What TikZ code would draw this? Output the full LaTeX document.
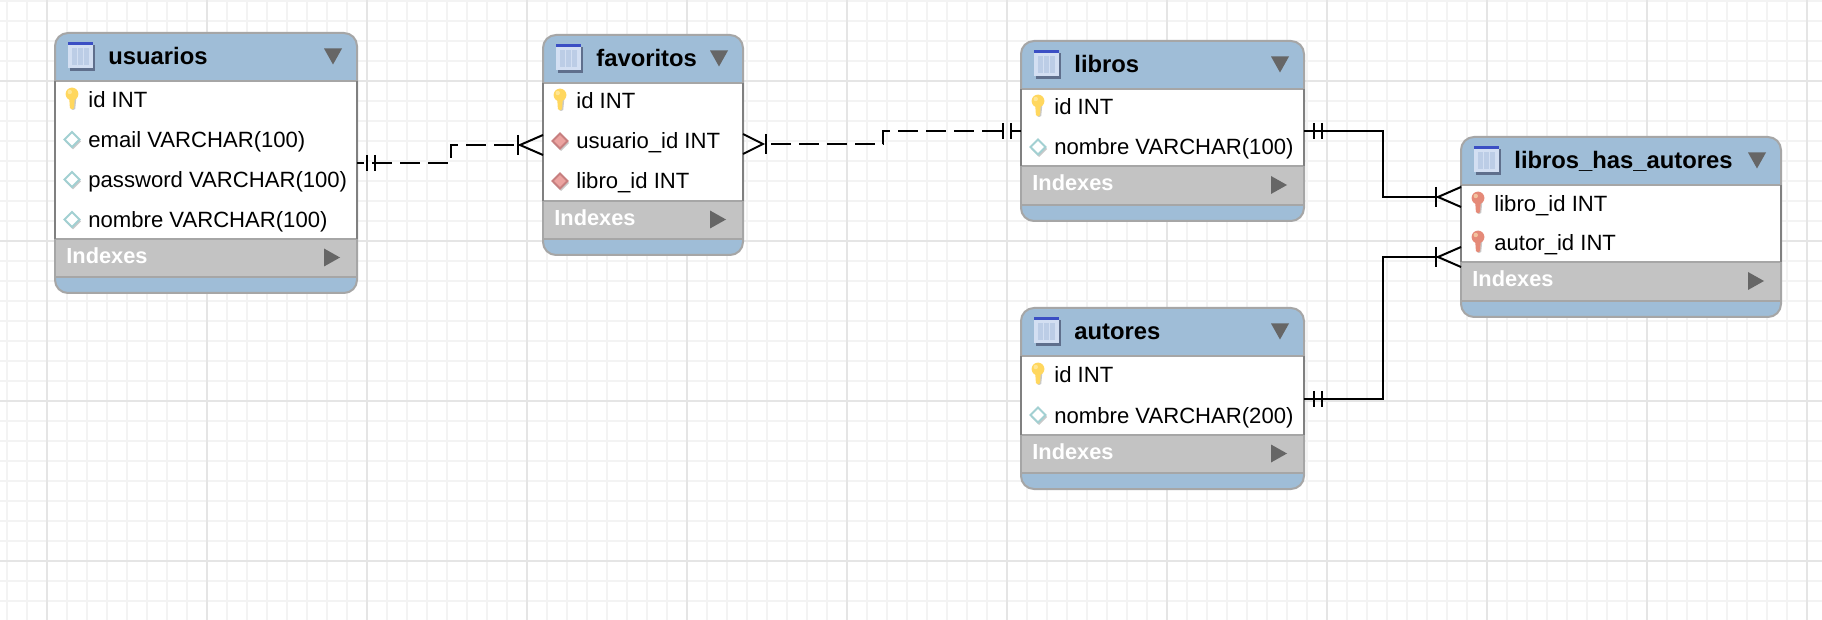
\documentclass[tikz,border=0pt]{standalone}
\usepackage{fontspec}
\setmainfont{Liberation Sans}
\usetikzlibrary{calc}
\definecolor{hdr}{HTML}{9FBDD7}
\definecolor{edgegray}{HTML}{A6A6A6}
\definecolor{sidegray}{HTML}{808080}
\definecolor{idx}{HTML}{C3C3C3}
\definecolor{tri}{HTML}{666666}
\definecolor{gmin}{HTML}{F3F3F3}
\definecolor{gmaj}{HTML}{E5E5E5}
\definecolor{icbody}{HTML}{D3DFF2}
\definecolor{iccol}{HTML}{BCCDE6}
\definecolor{icbar}{HTML}{3B4FC4}
\definecolor{icshadow}{HTML}{5F6F8C}
\definecolor{pkfill}{HTML}{FFD75E}
\definecolor{fkfill}{HTML}{E58A78}
\definecolor{keyhi}{HTML}{FFF3C0}
\definecolor{keyshade}{HTML}{C9C9C9}
\definecolor{colline}{HTML}{A2D0D2}
\definecolor{fkline}{HTML}{C77F7F}
\definecolor{fkcol}{HTML}{EBA3A0}
\tikzset{
  gridminor/.style={draw=gmin,line width=0.85pt},
  gridmajor/.style={draw=gmaj,line width=0.85pt},
  tablebox/.style={draw=edgegray,fill=hdr,line width=1pt,rounded corners=6.5pt,inner sep=0pt,outer sep=0pt},
  titletext/.style={anchor=base west,inner sep=0pt,font=\fontsize{11.9}{14}\selectfont\bfseries,text=black},
  rowtext/.style={anchor=base west,inner sep=0pt,font=\fontsize{11.05}{13}\selectfont,text=black},
  idxtext/.style={anchor=base west,inner sep=0pt,font=\fontsize{10.9}{13}\selectfont\bfseries,text=white},
  rel/.style={draw=black,line width=1pt},
  reldash/.style={rel,dash pattern=on 10pt off 4pt},
}
% table: id, title, left, right, top, bottom, index top
\newcommand{\dbtable}[7]{%
  \node[tablebox,minimum width={(#4-#3)*0.5pt},minimum height={(#6-#5)*0.5pt}] (#1) at ({(#3+#4)/2},{(#5+#6)/2}) {};
  \fill[white] (#3,#5+48) rectangle (#4,#7);
  \fill[idx] (#3,#7) rectangle (#4,#6-16);
  \draw[edgegray,line width=1pt] (#3,#5+48) -- (#4,#5+48);
  \draw[edgegray,line width=1pt] (#3,#7) -- (#4,#7);
  \draw[edgegray,line width=1pt] (#3,#6-16) -- (#4,#6-16);
  \draw[sidegray,line width=1pt] (#3,#5+48) -- (#3,#7);
  \draw[sidegray,line width=1pt] (#4,#5+48) -- (#4,#7);
  \draw[edgegray,line width=1pt] (#3,#7) -- (#3,#6-16) (#4,#7) -- (#4,#6-16);
  % table icon
  \fill[icshadow] (#3+15,#5+12) rectangle (#3+40,#5+38);
  \fill[icbody] (#3+13,#5+9) rectangle (#3+38,#5+35);
  \fill[iccol] (#3+17,#5+15) rectangle (#3+34,#5+32);
  \draw[icbody,line width=0.5pt] (#3+22.7,#5+15) -- (#3+22.7,#5+32) (#3+28.3,#5+15) -- (#3+28.3,#5+32);
  \fill[icbar] (#3+13,#5+9) rectangle (#3+38,#5+12);
  % triangles
  \fill[tri] (#4-33,#5+15.5) -- (#4-15,#5+15.5) -- (#4-24,#5+31.5) -- cycle;
  \fill[tri] (#4-33,#7+9.5) -- (#4-17,#7+18.5) -- (#4-33,#7+27.5) -- cycle;
  \node[titletext] (#1-title) at (#3+53,#5+31.5) {#2};
  \node[idxtext] (#1-idx) at (#3+11,#7+24.5) {Indexes};
}
\newcommand{\keyshape}[3]{%
  \begin{scope}[shift={(#1,#2)}]
    \fill[keyshade] (-1.5,-4) -- (4.5,-4) -- (3.2,9) -- (1,10) -- (-0.6,9) -- cycle;
    \fill[#3] (-3,-5) -- (3,-5) -- (2.1,8) -- (0,9.5) -- (-2.1,8) -- cycle;
    \fill[#3] (0,-6) circle[radius=3.2pt];
    \fill[keyhi,opacity=.55] (-2.2,-8) circle[radius=1.1pt];
  \end{scope}}
\newcommand{\diamondshape}[4]{%
  \begin{scope}[shift={(#1,#2)}]
    \fill[keyshade] (-7,2) -- (1,-6) -- (9,2) -- (1,10) -- cycle;
    \draw[#3,fill=#4,line width=1pt] (-7.5,0) -- (0,-7.5) -- (7.5,0) -- (0,7.5) -- cycle;
  \end{scope}}
\newcommand{\pkicon}[2]{\keyshape{#1+17}{#2}{pkfill}}
\newcommand{\fkicon}[2]{\keyshape{#1+17}{#2}{fkfill}}
\newcommand{\colicon}[2]{\diamondshape{#1+17}{#2}{colline}{white}}
\newcommand{\fkcolicon}[2]{\diamondshape{#1+17}{#2}{fkline}{fkcol}}
% row: node name, icon macro, left, centre y, text
\newcommand{\dbrow}[5]{#2{#3}{#4}\node[rowtext] (#1) at (#3+33,#4+8) {#5};}
% ends: point, direction (+1 right, -1 left)
\newcommand{\twobars}[2]{%
  \draw[rel] ($(#1)+(#2*10,-8)$) -- ($(#1)+(#2*10,8)$);
  \draw[rel] ($(#1)+(#2*18,-8)$) -- ($(#1)+(#2*18,8)$);}
\newcommand{\crowend}[4]{% point, dir, apex offset, bar offset
  \draw[rel] ($(#1)+(0,-10)$) -- ($(#1)+(#2*#3,0)$) -- ($(#1)+(0,10)$);
  \draw[rel] ($(#1)+(#2*#4,-10)$) -- ($(#1)+(#2*#4,10)$);}
\begin{document}
\begin{tikzpicture}[x=0.5pt,y=-0.5pt]
\useasboundingbox (0,0) rectangle (1822,620);
\fill[white] (0,0) rectangle (1822,620);
% grid
\foreach \x in {7,27,...,1822} \draw[gridminor] (\x,0) -- (\x,620);
\foreach \y in {1,21,...,620} \draw[gridminor] (0,\y) -- (1822,\y);
\foreach \x in {47,207,...,1822} \draw[gridmajor] (\x,0) -- (\x,620);
\foreach \y in {81,241,401,561} \draw[gridmajor] (0,\y) -- (1822,\y);
% tables
\dbtable{usu}{usuarios}{55}{357}{33}{293}{239}
\dbrow{usu-id}{\pkicon}{55}{100}{id INT}
\dbrow{usu-email}{\colicon}{55}{139.5}{email VARCHAR(100)}
\dbrow{usu-pass}{\colicon}{55}{179.5}{password VARCHAR(100)}
\dbrow{usu-nom}{\colicon}{55}{219.5}{nombre VARCHAR(100)}
\dbtable{fav}{favoritos}{543}{743}{35}{255}{201}
\dbrow{fav-id}{\pkicon}{543}{101}{id INT}
\dbrow{fav-usu}{\fkcolicon}{543}{141}{usuario\_id INT}
\dbrow{fav-lib}{\fkcolicon}{543}{181}{libro\_id INT}
\dbtable{lib}{libros}{1021}{1304}{41}{221}{166.5}
\dbrow{lib-id}{\pkicon}{1021}{107}{id INT}
\dbrow{lib-nom}{\colicon}{1021}{147}{nombre VARCHAR(100)}
\dbtable{aut}{autores}{1021}{1304}{308}{489}{435}
\dbrow{aut-id}{\pkicon}{1021}{375}{id INT}
\dbrow{aut-nom}{\colicon}{1021}{415}{nombre VARCHAR(200)}
\dbtable{lha}{libros\_has\_autores}{1461}{1781}{137}{317}{262.5}
\dbrow{lha-lib}{\fkicon}{1461}{204}{libro\_id INT}
\dbrow{lha-aut}{\fkicon}{1461}{243}{autor\_id INT}
% connector ends
\coordinate (usuE) at (usu.east |- 0,163);
\coordinate (favW) at (fav.west |- 0,145);
\coordinate (favE) at (fav.east |- 0,144);
\coordinate (libW) at (lib.west |- 0,131);
\coordinate (libE) at (lib.east |- 0,131);
\coordinate (lhaA) at (lha.west |- 0,197);
\coordinate (autE) at (aut.east |- 0,399);
\coordinate (lhaB) at (lha.west |- 0,257);
\coordinate (bendA) at (451,145);
\coordinate (bendB) at (883,131);
\coordinate (bendC) at (1383,197);
\coordinate (bendD) at (1383,257);
% connectors
\draw[reldash,dash phase=6.5pt] (usuE) -| (bendA) -- ($(favW)+(-25,0)$);
\twobars{usuE}{1}
\crowend{favW}{-1}{23}{25}
\draw[reldash,dash phase=11.5pt] ($(favE)+(23,0)$) -| (bendB) -- (libW);
\crowend{favE}{1}{20}{23}
\twobars{libW}{-1}
\draw[rel] (libE) -| (bendC) -- ($(lhaA)+(-23,0)$);
\twobars{libE}{1}
\crowend{lhaA}{-1}{23}{25}
\draw[rel] (autE) -| (bendD) -- ($(lhaB)+(-23,0)$);
\twobars{autE}{1}
\crowend{lhaB}{-1}{23}{25}
\end{tikzpicture}
\end{document}
